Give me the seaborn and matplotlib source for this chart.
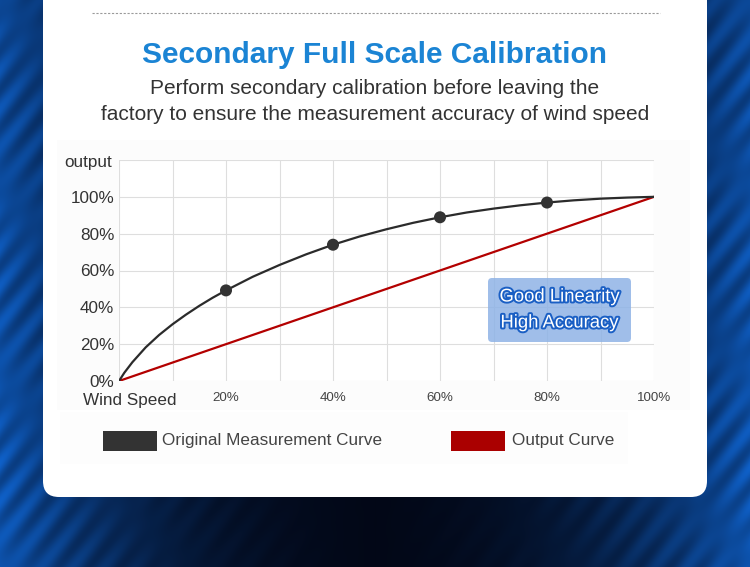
import matplotlib
matplotlib.use("Agg")
import matplotlib.pyplot as plt
import matplotlib.patheffects as pe
from matplotlib.patches import FancyBboxPatch, Rectangle
import numpy as np
import pandas as pd
import seaborn as sns

# Data (wind speed % -> output %)
speed = [0, 1, 2.5, 5, 7.5, 10, 12.5, 15, 17.5, 20, 25, 30, 35, 40, 45, 50,
         55, 60, 65, 70, 75, 80, 85, 90, 95, 100]
original = [0, 4.5, 10.2, 18.3, 25, 30.8, 36, 40.8, 45.2, 49.2, 56.6, 63, 68.8, 74, 78.5, 82.4,
            85.9, 88.9, 91.5, 93.6, 95.4, 96.9, 98.1, 99, 99.6, 100]
marker_speed = [20, 40, 60, 80]
marker_value = [49.2, 74, 88.9, 96.9]
output_speed = [0, 100]
output_value = [0, 100]

x_ticks = [0, 10, 20, 30, 40, 50, 60, 70, 80, 90, 100]
x_labels = ["", "", "20%", "", "40%", "", "60%", "", "80%", "", "100%"]
y_ticks = [0, 20, 40, 60, 80, 100, 120]
y_labels = ["0%", "20%", "40%", "60%", "80%", "100%", ""]

df_orig = pd.DataFrame({"speed": speed, "value": original})
df_out = pd.DataFrame({"speed": output_speed, "value": output_value})
df_mark = pd.DataFrame({"speed": marker_speed, "value": marker_value})

sns.set_theme(style="whitegrid")
plt.rcParams["font.family"] = ["Liberation Sans", "DejaVu Sans"]

W, H = 750, 567
fig = plt.figure(figsize=(7.5, 5.67), dpi=100)

# Background layer in pixel coordinates
bg = fig.add_axes([0, 0, 1, 1])
bg.set_xlim(0, W)
bg.set_ylim(H, 0)
bg.axis("off")

# Dark blue "tech" backdrop, brighter toward the sides
X, Y = np.meshgrid(np.arange(W), np.arange(H))
t = np.abs(X / W - 0.5) * 2
glow = np.clip(t ** 2.5 * 0.85 + 0.15 * (Y / H) * t, 0, 1)
traces = 0.82 + 0.18 * np.sin((X + 0.8 * Y) / 5.0) * np.sin((X - Y) / 60.0)
glow = glow * traces
img = np.zeros((H, W, 3))
img[..., 0] = 0.01 + 0.05 * glow
img[..., 1] = 0.03 + 0.36 * glow
img[..., 2] = 0.09 + 0.72 * glow
bg.imshow(np.clip(img, 0, 1), extent=[0, W, H, 0], aspect="auto", zorder=0)

# White card
card = FancyBboxPatch((43, -40), 664, 537, boxstyle="round,pad=0,rounding_size=16",
                      facecolor="white", edgecolor="none", zorder=1)
bg.add_patch(card)
bg.add_patch(Rectangle((57, 140), 633, 270, facecolor="#fcfcfc", edgecolor="none", zorder=1.5))
bg.add_patch(Rectangle((60, 412), 568, 52, facecolor="#fdfdfd", edgecolor="none", zorder=1.5))

# Dashed separator
bg.plot([92, 660], [13, 13], color="#9a9a9a", lw=0.8, ls=(0, (2, 1.5)), zorder=2)

# Title and subtitle
bg.text(375, 55, "Secondary Full Scale Calibration", ha="center", va="center",
        fontsize=21.5, fontweight="bold", color="#1b84d4", zorder=3)
bg.text(375, 89, "Perform secondary calibration before leaving the", ha="center",
        va="center", fontsize=15, color="#333333", zorder=3)
bg.text(375, 114, "factory to ensure the measurement accuracy of wind speed", ha="center",
        va="center", fontsize=15, color="#333333", zorder=3)

# Axis captions
bg.text(88, 162, "output", ha="center", va="center", fontsize=12.3, color="#333333", zorder=3)
bg.text(130, 401, "Wind Speed", ha="center", va="center", fontsize=12.3, color="#333333", zorder=3)

# Legend
bg.add_patch(Rectangle((103, 431), 54, 20, facecolor="#333333", edgecolor="none", zorder=3))
bg.text(162, 441, "Original Measurement Curve", ha="left", va="center",
        fontsize=12.3, color="#444444", zorder=3)
bg.add_patch(Rectangle((451, 431), 54, 20, facecolor="#aa0000", edgecolor="none", zorder=3))
bg.text(512, 441, "Output Curve", ha="left", va="center",
        fontsize=12.3, color="#444444", zorder=3)

# Chart axes
x0, x1 = 119, 654
ytop, ybot = 160, 381
ax = fig.add_axes([x0 / W, 1 - ybot / H, (x1 - x0) / W, (ybot - ytop) / H])
ax.set_facecolor("white")
ax.set_xlim(0, 100)
ax.set_ylim(0, 120)

sns.lineplot(data=df_out, x="speed", y="value", ax=ax, color="#b30000", lw=1.6, zorder=3)
sns.lineplot(data=df_orig, x="speed", y="value", ax=ax, color="#2b2b2b", lw=1.6, zorder=4,
             solid_joinstyle="round")
sns.scatterplot(data=df_mark, x="speed", y="value", ax=ax, color="#333333", s=75,
                edgecolor="none", zorder=5)

ax.set_xticks(x_ticks)
ax.set_xticklabels(x_labels)
ax.set_yticks(y_ticks)
ax.set_yticklabels(y_labels)
ax.tick_params(axis="x", length=0, pad=8, labelsize=9.6, labelcolor="#444444")
ax.tick_params(axis="y", length=0, pad=3.5, labelsize=12.3, labelcolor="#333333")
ax.grid(True, color="#dedede", lw=0.8)
for s in ax.spines.values():
    s.set_visible(False)
ax.set_xlabel("")
ax.set_ylabel("")

# Annotation box
box = FancyBboxPatch((488, 278), 143, 64, boxstyle="round,pad=0,rounding_size=4",
                     facecolor="#8fb3e6", edgecolor="none", alpha=0.85,
                     transform=bg.transData, zorder=10)
fig.add_artist(box)
outline = [pe.withStroke(linewidth=2.8, foreground="#1a5fc4")]
for label, yc in [("Good Linearity", 297), ("High Accuracy", 323)]:
    fig.text(559.5 / W, 1 - yc / H, label, ha="center", va="center", fontsize=13.3,
             color="white", path_effects=outline, zorder=11)

fig.savefig("out.png", dpi=100)
plt.close(fig)
